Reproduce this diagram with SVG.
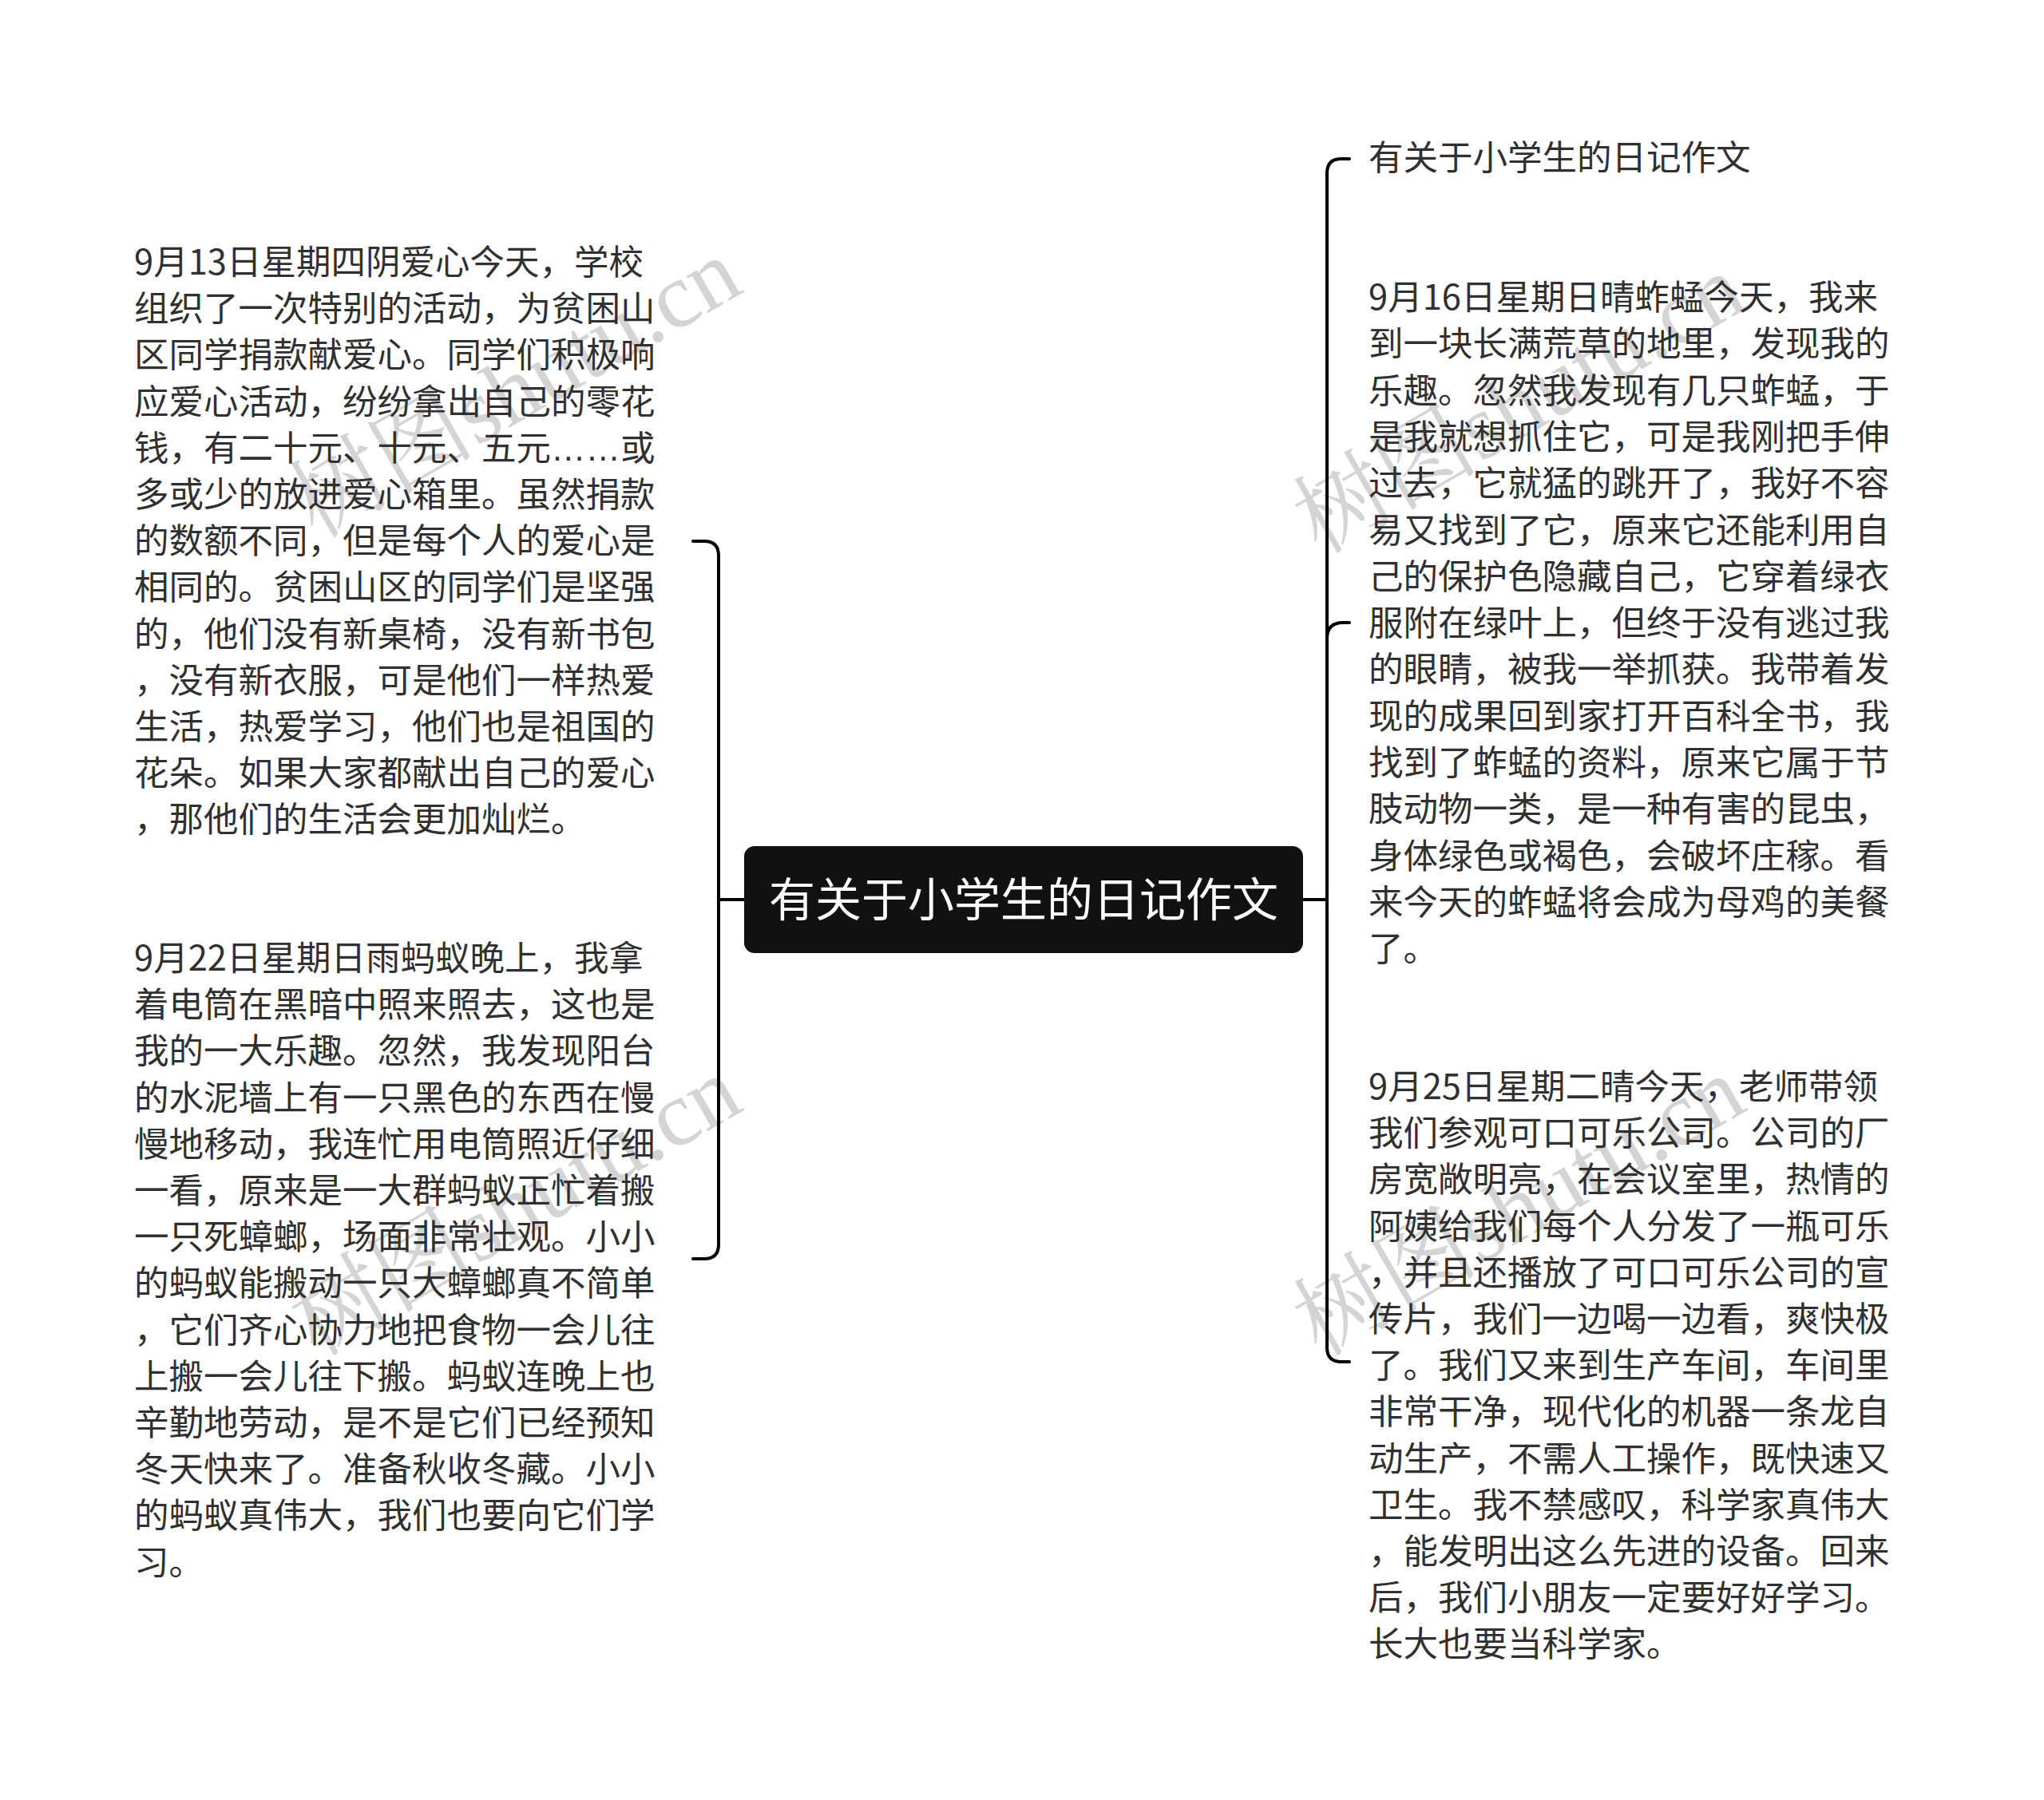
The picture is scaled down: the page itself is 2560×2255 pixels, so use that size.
<svg xmlns="http://www.w3.org/2000/svg" width="2560" height="2255" viewBox="0 0 2560 2255">
<style>
.body{font-family:"Noto Sans CJK SC","Noto Sans",sans-serif;font-size:43.5px;fill:#303030;}
.root{font-family:"Noto Sans CJK SC","Noto Sans",sans-serif;font-size:58px;fill:#ffffff;}
.conn{fill:none;stroke:#000000;stroke-width:4;stroke-linecap:round;}
.wm{font-family:"Liberation Serif","Noto Serif CJK SC","Noto Sans CJK SC",serif;font-size:116px;fill:#d4d4d4;}
.ell{font-family:"Liberation Sans",sans-serif;}
</style>
<rect width="2560" height="2255" fill="#ffffff"/>
<g id="watermarks">
<text class="wm" x="665" y="520" text-anchor="middle" transform="rotate(-30 665 520)">树图shutu.cn</text>
<text class="wm" x="665" y="1545" text-anchor="middle" transform="rotate(-30 665 1545)">树图shutu.cn</text>
<text class="wm" x="1922" y="540" text-anchor="middle" transform="rotate(-30 1922 540)">树图shutu.cn</text>
<text class="wm" x="1922" y="1545" text-anchor="middle" transform="rotate(-30 1922 1545)">树图shutu.cn</text>
</g>
<g id="connectors">
<path class="conn" d="M932 1127 L900 1127"/>
<path class="conn" d="M868 678 L882 678 Q900 678 900 696 L900 1559 Q900 1577 882 1577 L868 1577"/>
<path class="conn" d="M1632 1127 L1662 1127"/>
<path class="conn" d="M1690 199 L1680 199 Q1662 199 1662 217 L1662 1688 Q1662 1706 1680 1706 L1690 1706"/>
<path class="conn" d="M1662 800 Q1662 780 1682 780 L1690 780"/>
</g>
<g id="root">
<rect x="932" y="1060" width="700" height="134" rx="13" fill="#111111"/>
<text class="root" x="1282" y="1148" text-anchor="middle">有关于小学生的日记作文</text>
</g>
<g id="left1">
<text class="body" x="168" y="344">
<tspan x="168" y="344">9月13日星期四阴爱心今天，学校</tspan>
<tspan x="168" dy="58.2">组织了一次特别的活动，为贫困山</tspan>
<tspan x="168" dy="58.2">区同学捐款献爱心。同学们积极响</tspan>
<tspan x="168" dy="58.2">应爱心活动，纷纷拿出自己的零花</tspan>
<tspan x="168" dy="58.2">钱，有二十元、十元、五元<tspan class="ell">……</tspan>或</tspan>
<tspan x="168" dy="58.2">多或少的放进爱心箱里。虽然捐款</tspan>
<tspan x="168" dy="58.2">的数额不同，但是每个人的爱心是</tspan>
<tspan x="168" dy="58.2">相同的。贫困山区的同学们是坚强</tspan>
<tspan x="168" dy="58.2">的，他们没有新桌椅，没有新书包</tspan>
<tspan x="168" dy="58.2">，没有新衣服，可是他们一样热爱</tspan>
<tspan x="168" dy="58.2">生活，热爱学习，他们也是祖国的</tspan>
<tspan x="168" dy="58.2">花朵。如果大家都献出自己的爱心</tspan>
<tspan x="168" dy="58.2">，那他们的生活会更加灿烂。</tspan>
</text>
</g>
<g id="left2">
<text class="body" x="168" y="1216">
<tspan x="168" y="1216">9月22日星期日雨蚂蚁晚上，我拿</tspan>
<tspan x="168" dy="58.2">着电筒在黑暗中照来照去，这也是</tspan>
<tspan x="168" dy="58.2">我的一大乐趣。忽然，我发现阳台</tspan>
<tspan x="168" dy="58.2">的水泥墙上有一只黑色的东西在慢</tspan>
<tspan x="168" dy="58.2">慢地移动，我连忙用电筒照近仔细</tspan>
<tspan x="168" dy="58.2">一看，原来是一大群蚂蚁正忙着搬</tspan>
<tspan x="168" dy="58.2">一只死蟑螂，场面非常壮观。小小</tspan>
<tspan x="168" dy="58.2">的蚂蚁能搬动一只大蟑螂真不简单</tspan>
<tspan x="168" dy="58.2">，它们齐心协力地把食物一会儿往</tspan>
<tspan x="168" dy="58.2">上搬一会儿往下搬。蚂蚁连晚上也</tspan>
<tspan x="168" dy="58.2">辛勤地劳动，是不是它们已经预知</tspan>
<tspan x="168" dy="58.2">冬天快来了。准备秋收冬藏。小小</tspan>
<tspan x="168" dy="58.2">的蚂蚁真伟大，我们也要向它们学</tspan>
<tspan x="168" dy="58.2">习。</tspan>
</text>
</g>
<g id="right1">
<text class="body" x="1714" y="213">有关于小学生的日记作文</text>
</g>
<g id="right2">
<text class="body" x="1714" y="388">
<tspan x="1714" y="388">9月16日星期日晴蚱蜢今天，我来</tspan>
<tspan x="1714" dy="58.3">到一块长满荒草的地里，发现我的</tspan>
<tspan x="1714" dy="58.3">乐趣。忽然我发现有几只蚱蜢，于</tspan>
<tspan x="1714" dy="58.3">是我就想抓住它，可是我刚把手伸</tspan>
<tspan x="1714" dy="58.3">过去，它就猛的跳开了，我好不容</tspan>
<tspan x="1714" dy="58.3">易又找到了它，原来它还能利用自</tspan>
<tspan x="1714" dy="58.3">己的保护色隐藏自己，它穿着绿衣</tspan>
<tspan x="1714" dy="58.3">服附在绿叶上，但终于没有逃过我</tspan>
<tspan x="1714" dy="58.3">的眼睛，被我一举抓获。我带着发</tspan>
<tspan x="1714" dy="58.3">现的成果回到家打开百科全书，我</tspan>
<tspan x="1714" dy="58.3">找到了蚱蜢的资料，原来它属于节</tspan>
<tspan x="1714" dy="58.3">肢动物一类，是一种有害的昆虫，</tspan>
<tspan x="1714" dy="58.3">身体绿色或褐色，会破坏庄稼。看</tspan>
<tspan x="1714" dy="58.3">来今天的蚱蜢将会成为母鸡的美餐</tspan>
<tspan x="1714" dy="58.3">了。</tspan>
</text>
</g>
<g id="right3">
<text class="body" x="1714" y="1377">
<tspan x="1714" y="1377">9月25日星期二晴今天，老师带领</tspan>
<tspan x="1714" dy="58.2">我们参观可口可乐公司。公司的厂</tspan>
<tspan x="1714" dy="58.2">房宽敞明亮，在会议室里，热情的</tspan>
<tspan x="1714" dy="58.2">阿姨给我们每个人分发了一瓶可乐</tspan>
<tspan x="1714" dy="58.2">，并且还播放了可口可乐公司的宣</tspan>
<tspan x="1714" dy="58.2">传片，我们一边喝一边看，爽快极</tspan>
<tspan x="1714" dy="58.2">了。我们又来到生产车间，车间里</tspan>
<tspan x="1714" dy="58.2">非常干净，现代化的机器一条龙自</tspan>
<tspan x="1714" dy="58.2">动生产，不需人工操作，既快速又</tspan>
<tspan x="1714" dy="58.2">卫生。我不禁感叹，科学家真伟大</tspan>
<tspan x="1714" dy="58.2">，能发明出这么先进的设备。回来</tspan>
<tspan x="1714" dy="58.2">后，我们小朋友一定要好好学习。</tspan>
<tspan x="1714" dy="58.2">长大也要当科学家。</tspan>
</text>
</g>
</svg>
